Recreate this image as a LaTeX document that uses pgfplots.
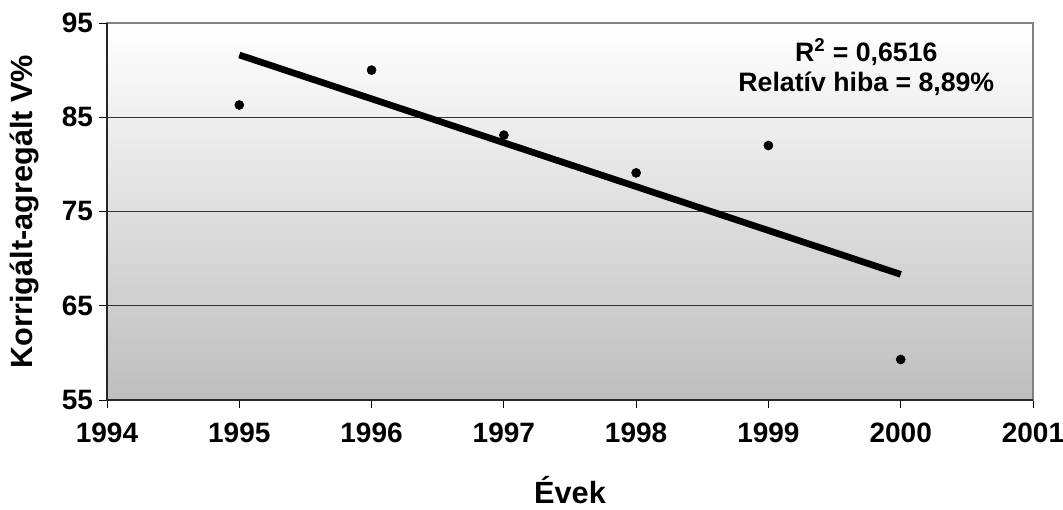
\documentclass[border=0pt]{standalone}
\usepackage{pgfplots}
\pgfplotsset{compat=1.18}
\usepackage{fontspec}
\setmainfont{Liberation Sans}
\definecolor{bgbot}{RGB}{190,190,190}
\definecolor{frame}{RGB}{128,128,128}
\begin{document}
\begin{tikzpicture}
\begin{axis}[
  name=ax,
  scale only axis,
  width=694.5pt, height=282.75pt,
  xmin=1994, xmax=2001, ymin=55, ymax=95,
  xtick={1994,1995,...,2001},
  ytick={55,65,75,85,95},
  tick align=outside,
  tick pos=left,
  major tick length=6pt,
  tick style={black, line width=0.6pt},
  ymajorgrids,
  grid style={black!80, line width=0.5pt},
  axis line style={frame, line width=1pt},
  axis background/.style={top color=white, bottom color=bgbot},
  /pgf/number format/.cd, 1000 sep={}, assume math mode=true,
  /pgfplots/.cd,
  ticklabel style={font=\bfseries\fontsize{21}{24}\selectfont},
  xticklabel style={yshift=-8pt},
  yticklabel style={xshift=-1pt},
  xlabel={Évek},
  ylabel={Korrigált-agregált V\%},
  label style={font=\bfseries\fontsize{23}{26}\selectfont},
  xlabel style={at={(axis description cs:0.5,-0.238)}, anchor=center},
  ylabel style={at={(axis description cs:-0.0895,0.5)}, anchor=center},
  clip=false,
]
\addplot[only marks, mark=*, mark size=3.4pt, black] coordinates {
  (1995,86.3) (1996,90.0) (1997,83.1) (1998,79.1) (1999,82.0) (2000,59.3)
};
\addplot[black, line width=5pt] coordinates {
  (1995,91.61) (2000,68.33)
};
\node[align=center, font=\bfseries\fontsize{20}{22.5}\selectfont] at (axis cs:1999.74,90.3)
  {R\textsuperscript{2} = 0,6516\\Relatív hiba = 8,89\%};
\draw[black!85, line width=1pt] (rel axis cs:0,1) -- (rel axis cs:0,0) -- (rel axis cs:1,0);
\end{axis}
\pgfresetboundingbox
\path[use as bounding box] ([shift={(-80.25pt,-82.5pt)}]ax.south west) rectangle ([shift={(22.5pt,17.25pt)}]ax.north east);
\end{tikzpicture}
\end{document}
